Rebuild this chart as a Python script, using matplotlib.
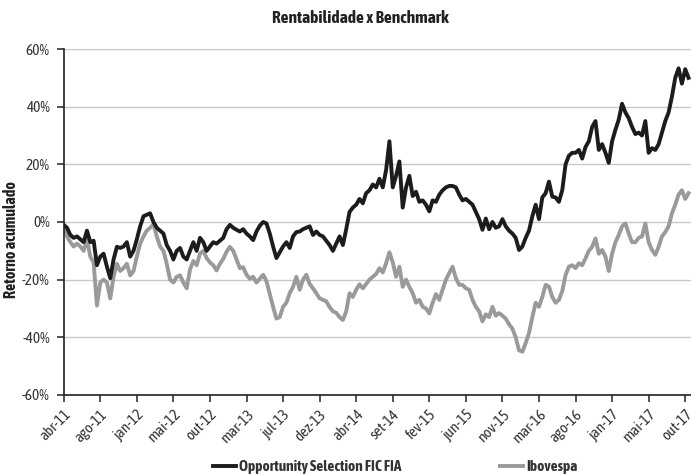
import matplotlib
matplotlib.use("Agg")
import matplotlib.pyplot as plt
from matplotlib import font_manager
from matplotlib.transforms import ScaledTranslation
from matplotlib.ticker import FuncFormatter

# pick a narrow face that also has a bold weight, if one is installed
fonts = font_manager.fontManager.ttflist
narrow = {}
for f in fonts:
    if 'Narrow' in f.name or 'Condensed' in f.name:
        w = f.weight if isinstance(f.weight, int) else (700 if 'bold' in str(f.weight) else 400)
        narrow.setdefault(f.name, set()).add(w)
with_bold = [n for n, ws in narrow.items() if any(w >= 600 for w in ws)]
pick = with_bold[0] if with_bold else (list(narrow)[0] if narrow else 'DejaVu Sans')
plt.rcParams['font.family'] = [pick, 'DejaVu Sans']
bold_family = [pick, 'DejaVu Sans'] if with_bold else ['Liberation Sans', 'DejaVu Sans']

# tick labels of the category axis (one label every 11 points)
tick_labels = ['abr-11', 'ago-11', 'jan-12', 'mai-12', 'out-12', 'mar-13', 'jul-13',
               'dez-13', 'abr-14', 'set-14', 'fev-15', 'jun-15', 'nov-15', 'mar-16',
               'ago-16', 'jan-17', 'mai-17', 'out-17']
step = 11

# cumulative return (%)
fundo = [
    -1, -2, -4.5, -5.5, -5, -6, -7, -3, -7, -6.5,
    -15, -12, -11, -15.5, -19.5, -13, -8.6, -9, -8.5, -7,
    -12, -10, -6, -1.5, 2, 2.5, 3, 0, -2, -3,
    -4, -8, -10, -13, -10, -9, -12, -13, -10, -7,
    -10, -5.5, -7, -10, -8.5, -7, -7.5, -6.5, -5.5, -2.5,
    -1, -2, -2.7, -3.3, -2.5, -4, -5, -6.3, -3.3, -1.3,
    0, -0.5, -4, -8.5, -12.5, -10.5, -8.5, -7, -9, -5,
    -3.5, -3.3, -2.5, -2, -1.5, -4.5, -3.3, -4.5, -5, -6.5,
    -8, -10, -7.5, -5, -8, -2.5, 3.5, 5, 6, 8,
    6.5, 10, 11, 13, 12, 15, 12, 18, 28, 12,
    16, 21, 5, 12, 16, 9, 10.5, 7, 7.5, 6,
    3.7, 7.5, 7, 9.5, 11, 12, 12.5, 12.5, 12, 9.5,
    7.5, 8, 7, 6, 3.5, 1, -2.7, 1.2, -2.5, 0,
    -2, -1.5, 1, -1.5, -3, -4, -5.5, -9.7, -8.5, -5.5,
    -3, 2, 6, 1, 8.5, 10, 14, 8.8, 8.5, 7,
    11, 20, 23, 24, 24, 25, 22, 26, 28, 33,
    35, 25, 27, 24, 20.5, 28, 32, 35.5, 41, 38,
    36, 33, 30.5, 31, 30, 35, 24, 25.6, 25, 27,
    31, 35, 38, 43.5, 50, 53.3, 48, 53, 50,
]
ibov = [
    -1, -5, -7, -8.5, -7.5, -8.5, -10, -6, -12, -14,
    -29, -21, -20, -21, -26.5, -19, -14.5, -17, -16, -14.5,
    -18.5, -17, -12, -7.5, -5, -3, -2, -0.8, -5, -8.5,
    -10, -14.5, -20, -21, -19, -18.5, -21, -23, -16.5, -13.5,
    -15, -11, -10, -12.5, -14, -15, -16.8, -14.5, -12.8, -10.3,
    -8.6, -10, -13, -16, -15.7, -18.3, -19.7, -19, -21, -19.7,
    -18.3, -20.5, -25, -29.4, -33.5, -33, -29.4, -28, -24.7, -22.5,
    -19, -23.5, -20, -18.3, -21.5, -23, -24.7, -26.5, -27, -27.5,
    -29.5, -31, -31.5, -33, -34, -31, -24.7, -26, -23.5, -21.6,
    -23, -21.5, -20, -19, -18, -16, -17.5, -14.3, -10.5, -14,
    -19, -15.5, -22.5, -20, -22.5, -24.7, -28, -27, -29.4, -30,
    -31.7, -28, -25, -27, -23.5, -20, -17.7, -15.5, -19.5, -21.8,
    -21.8, -23, -23.5, -27, -29.4, -31, -34.5, -32, -33, -29.4,
    -32.5, -31.6, -32.5, -33.5, -35.5, -37, -40, -44.5, -45, -42,
    -38.5, -33, -28, -29.4, -26, -21.8, -22.4, -26, -28, -27,
    -24, -18.4, -15.5, -15, -16, -14.3, -15, -12.6, -10, -8.6,
    -5.7, -11, -9.7, -12, -17, -11, -7, -4.5, -1.5, -0.5,
    -4, -7, -7, -5.5, -5, -0.5, -7, -9.7, -11.4, -8.6,
    -5, -3.5, -1.5, 3, 6, 9.5, 11, 8, 10,
]

fig = plt.figure(figsize=(6.91, 4.74), dpi=100)
ax = fig.add_axes([0.0922, 0.1667, 0.9078, 0.7299])

x = list(range(len(fundo)))
l2, = ax.plot(x, ibov, color='#9a9a9a', lw=2.8, solid_joinstyle='round', label='Ibovespa')
l1, = ax.plot(x, fundo, color='#1c1c1c', lw=2.8, solid_joinstyle='round',
              label='Opportunity Selection FIC FIA')

ax.set_xlim(0, 188.74)
ax.set_ylim(-60, 60)
ax.set_yticks(range(-60, 61, 20))
ax.yaxis.set_major_formatter(FuncFormatter(lambda v, p: f'{v:.0f}%'))
ax.set_xticks([i * step for i in range(len(tick_labels))])
ax.set_xticklabels(tick_labels, rotation=45, ha='right', rotation_mode='anchor')
shift = ScaledTranslation(-3 / 100, 0, fig.dpi_scale_trans)
for lab in ax.get_xticklabels():
    lab.set_transform(lab.get_transform() + shift)

ax.grid(axis='y', color='#c8c8c8', lw=1)
ax.set_axisbelow(True)
for s in ['top', 'right']:
    ax.spines[s].set_visible(False)
for s in ['left', 'bottom']:
    ax.spines[s].set_color('#222222')
    ax.spines[s].set_linewidth(1.2)
ax.tick_params(axis='both', direction='out', length=5, width=1.1, color='#222222',
               labelsize=11, labelcolor='#333333')
ax.tick_params(axis='y', pad=5)
ax.tick_params(axis='x', pad=4)

fig.text(0.016, 0.494, 'Retorno acumulado', rotation=90, ha='center', va='center',
         fontsize=11.5, fontweight='bold', color='#222222', family=bold_family)
fig.text(0.521, 0.962, 'Rentabilidade x Benchmark', ha='center', va='center',
         fontsize=12.5, fontweight='bold', color='#222222', family=bold_family)

leg = fig.legend(handles=[l1, l2], loc='center', bbox_to_anchor=(0.572, 0.015),
                 ncol=2, frameon=False, handlelength=1.5, handletextpad=0.2,
                 columnspacing=6.5,
                 prop={'weight': 'bold', 'size': 11, 'family': bold_family})
for t in leg.get_texts():
    t.set_color('#333333')

fig.savefig('out.png', dpi=100)
